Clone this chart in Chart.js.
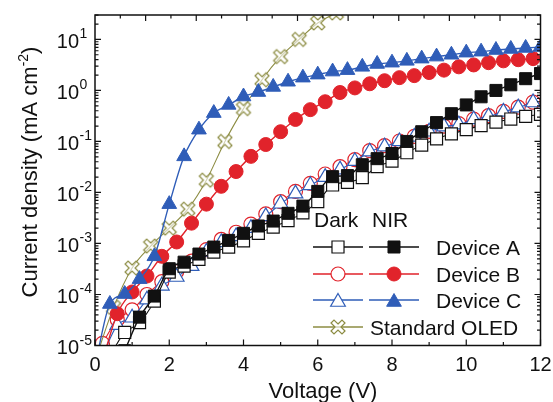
<!DOCTYPE html>
<html>
<head>
<meta charset="utf-8">
<script src="https://cdn.jsdelivr.net/npm/chart.js@4.4.1/dist/chart.umd.min.js"></script>
<style>
  html, body { margin: 0; padding: 0; background: #fff; }
  canvas { display: block; }
</style>
</head>
<body>
<canvas id="jvChart" width="553" height="402"></canvas>
<script>
// Voltage (V) sample points for each curve
const voltsDarkA = [0.4, 0.8, 1.2, 1.6, 2.0, 2.4, 2.8, 3.2, 3.6, 4.0, 4.4, 4.8, 5.2, 5.6, 6.0, 6.4, 6.8, 7.2, 7.6, 8.0, 8.4, 8.8, 9.2, 9.6, 10.0, 10.4, 10.8, 11.2, 11.6, 12.0];
const voltsNirA = [0.8, 1.2, 1.6, 2.0, 2.4, 2.8, 3.2, 3.6, 4.0, 4.4, 4.8, 5.2, 5.6, 6.0, 6.4, 6.8, 7.2, 7.6, 8.0, 8.4, 8.8, 9.2, 9.6, 10.0, 10.4, 10.8, 11.2, 11.6, 12.0];
const voltsB = [0.2, 0.6, 1.0, 1.4, 1.8, 2.2, 2.6, 3.0, 3.4, 3.8, 4.2, 4.6, 5.0, 5.4, 5.8, 6.2, 6.6, 7.0, 7.4, 7.8, 8.2, 8.6, 9.0, 9.4, 9.8, 10.2, 10.6, 11.0, 11.4, 11.8];
const voltsNirC = [0.0, 0.4, 0.8, 1.2, 1.6, 2.0, 2.4, 2.8, 3.2, 3.6, 4.0, 4.4, 4.8, 5.2, 5.6, 6.0, 6.4, 6.8, 7.2, 7.6, 8.0, 8.4, 8.8, 9.2, 9.6, 10.0, 10.4, 10.8, 11.2, 11.6, 12.0];
const voltsOled = [0.0, 0.5, 1.0, 1.5, 2.0, 2.5, 3.0, 3.5, 4.0, 4.5, 5.0, 5.5, 6.0, 6.5];

// Current density (mA cm-2)
const darkA = [6.3e-6, 1.8e-5, 2.8e-5, 7.4e-5, 2.75e-4, 3.6e-4, 4.9e-4, 6.8e-4, 8.5e-4, 1.12e-3, 1.58e-3, 2.1e-3, 2.8e-3, 3.98e-3, 6.6e-3, 1.4e-2, 1.58e-2, 1.95e-2, 3.2e-2, 4.1e-2, 6.0e-2, 8.5e-2, 0.112, 0.141, 0.17, 0.204, 0.24, 0.275, 0.31, 0.34];
const nirA = [7.9e-6, 3.6e-5, 9.3e-5, 3.2e-4, 4.3e-4, 6.2e-4, 8.5e-4, 1.15e-3, 1.58e-3, 2.2e-3, 2.75e-3, 3.9e-3, 5.4e-3, 1.05e-2, 2.04e-2, 2.14e-2, 3.5e-2, 4.6e-2, 5.8e-2, 0.10, 0.155, 0.234, 0.35, 0.52, 0.75, 1.0, 1.29, 1.70, 2.14];
const darkB = [1.1e-5, 3.2e-5, 5.0e-5, 1.0e-4, 1.78e-4, 2.8e-4, 4.5e-4, 7.6e-4, 1.2e-3, 1.66e-3, 2.4e-3, 3.8e-3, 6.6e-3, 1.05e-2, 1.51e-2, 2.3e-2, 3.2e-2, 4.4e-2, 6.6e-2, 8.3e-2, 0.102, 0.126, 0.158, 0.20, 0.224, 0.275, 0.32, 0.39, 0.47, 0.59];
const nirB = [5.0e-6, 4.2e-5, 1.12e-4, 2.3e-4, 5.6e-4, 1.07e-3, 2.5e-3, 5.9e-3, 1.32e-2, 2.57e-2, 5.1e-2, 8.7e-2, 0.155, 0.27, 0.42, 0.60, 0.91, 1.12, 1.35, 1.55, 1.78, 1.95, 2.24, 2.5, 2.9, 3.16, 3.5, 3.8, 4.0, 4.2];
const darkC = [6.3e-6, 2.5e-5, 3.5e-5, 7.9e-5, 1.48e-4, 2.2e-4, 3.6e-4, 6.8e-4, 1.05e-3, 1.38e-3, 2.0e-3, 3.4e-3, 6.0e-3, 9.5e-3, 1.38e-2, 2.0e-2, 2.8e-2, 4.1e-2, 6.3e-2, 7.9e-2, 0.10, 0.123, 0.155, 0.195, 0.214, 0.27, 0.31, 0.38, 0.46, 0.58];
const nirC = [4.0e-6, 6.5e-5, 1.02e-4, 2.0e-4, 5.6e-4, 5.9e-3, 5.1e-2, 0.17, 0.36, 0.52, 0.76, 0.93, 1.17, 1.48, 1.78, 2.04, 2.34, 2.5, 2.9, 3.3, 3.5, 3.8, 4.2, 4.6, 5.0, 5.5, 5.75, 6.2, 6.5, 6.8, 7.1];
const oled = [5.0e-6, 5.6e-5, 3.3e-4, 8.9e-4, 2.0e-3, 4.7e-3, 1.74e-2, 0.10, 0.44, 1.62, 4.6, 10, 21, 33];

const xTicks = [0, 2, 4, 6, 8, 10, 12];
const yExponents = [1, 0, -1, -2, -3, -4, -5];
const legendRows = ['Device A', 'Device B', 'Device C', 'Standard OLED'];

const BLACK = '#111111';
const RED = '#e1232b';
const BLUE = '#2f5db8';
const OLIVE = '#8c8c42';
const FONT = '"Liberation Sans", Arial, sans-serif';

// hollow "X" marker for the standard OLED
function makeCrossMarker(color) {
  const c = document.createElement('canvas');
  c.width = 18; c.height = 18;
  const g = c.getContext('2d');
  const s = 7, k = 3;
  g.translate(9, 9);
  g.beginPath();
  g.moveTo(0, -k);
  g.lineTo(s - k, -s); g.lineTo(s, -s + k);
  g.lineTo(k, 0);
  g.lineTo(s, s - k); g.lineTo(s - k, s);
  g.lineTo(0, k);
  g.lineTo(-s + k, s); g.lineTo(-s, s - k);
  g.lineTo(-k, 0);
  g.lineTo(-s, -s + k); g.lineTo(-s + k, -s);
  g.closePath();
  g.fillStyle = 'rgba(255,255,255,0.6)';
  g.fill();
  g.strokeStyle = color;
  g.lineWidth = 1.2;
  g.stroke();
  return c;
}
const crossMarker = makeCrossMarker(OLIVE);

function series(label, xs, ys, color, style, filled, radius) {
  return {
    label: label,
    data: xs.map((v, i) => ({ x: v, y: ys[i] })),
    borderColor: color,
    backgroundColor: filled ? color : '#ffffff',
    borderWidth: filled ? 1.4 : 1.1,
    pointStyle: style,
    pointRadius: radius,
    pointBorderWidth: filled ? 1 : 1.2,
    pointBorderColor: color,
    pointBackgroundColor: filled ? color : '#ffffff',
    cubicInterpolationMode: 'monotone',
    fill: false
  };
}

function drawMarker(ctx, style, x, y, color, filled, r) {
  ctx.save();
  ctx.fillStyle = filled ? color : '#ffffff';
  ctx.strokeStyle = color;
  ctx.lineWidth = filled ? 1 : 1.2;
  ctx.beginPath();
  if (style === 'rect') {
    const h = r * Math.SQRT1_2;
    ctx.rect(x - h, y - h, 2 * h, 2 * h);
  } else if (style === 'circle') {
    ctx.arc(x, y, r, 0, Math.PI * 2);
  } else if (style === 'triangle') {
    ctx.moveTo(x, y - r);
    ctx.lineTo(x + r * Math.sin(2 * Math.PI / 3), y - r * Math.cos(2 * Math.PI / 3));
    ctx.lineTo(x + r * Math.sin(4 * Math.PI / 3), y - r * Math.cos(4 * Math.PI / 3));
    ctx.closePath();
  }
  ctx.fill();
  ctx.stroke();
  ctx.restore();
}

const frameAndTicks = {
  id: 'frameAndTicks',
  afterDatasetsDraw(chart) {
    const { ctx, chartArea: a, scales } = chart;
    const x = scales.x, y = scales.y, xt = scales.xt;
    ctx.save();
    ctx.strokeStyle = BLACK;
    ctx.lineWidth = 1.5;
    ctx.strokeRect(a.left, a.top, a.right - a.left, a.bottom - a.top);
    ctx.lineWidth = 1.2;
    ctx.beginPath();
    // bottom ticks, inward
    for (let v = 0; v <= 12; v++) {
      const px = x.getPixelForValue(v);
      const len = v % 2 === 0 ? 6 : 3.5;
      ctx.moveTo(px, a.bottom); ctx.lineTo(px, a.bottom - len);
    }
    // top ticks
    for (let v = 1; v <= 17; v++) {
      const px = xt.getPixelForValue(v);
      const len = v % 2 === 0 ? 6 : 3.5;
      ctx.moveTo(px, a.top); ctx.lineTo(px, a.top + len);
    }
    // left and right log ticks
    for (let e = -5; e <= 1; e++) {
      for (let m = 1; m <= 9; m++) {
        const val = m * Math.pow(10, e);
        if (val > y.max) break;
        const py = y.getPixelForValue(val);
        const len = m === 1 ? 6 : 3.5;
        ctx.moveTo(a.left, py); ctx.lineTo(a.left + len, py);
        ctx.moveTo(a.right, py); ctx.lineTo(a.right - len, py);
      }
    }
    ctx.stroke();
    ctx.restore();
  },
  afterDraw(chart) {
    const { ctx, chartArea: a, scales } = chart;
    const x = scales.x, y = scales.y;
    ctx.save();
    ctx.fillStyle = BLACK;

    // x tick labels
    ctx.font = '20px ' + FONT;
    ctx.textAlign = 'center';
    ctx.textBaseline = 'alphabetic';
    xTicks.forEach(v => {
      ctx.fillText(String(v), x.getPixelForValue(v), a.bottom + 25);
    });

    // y tick labels 10^n
    yExponents.forEach(e => {
      const py = y.getPixelForValue(Math.pow(10, e));
      ctx.font = '20px ' + FONT;
      ctx.textAlign = 'right';
      ctx.fillText('10', 79, py + 8.5);
      ctx.font = '14px ' + FONT;
      ctx.textAlign = 'left';
      ctx.fillText(e < 0 ? '-' + Math.abs(e) : String(e), 79.5, py - 1);
    });

    // x axis title
    ctx.font = '22px ' + FONT;
    ctx.textAlign = 'center';
    ctx.fillText('Voltage (V)', 323, 398);

    // y axis title with superscript
    ctx.save();
    ctx.translate(37, 172);
    ctx.rotate(-Math.PI / 2);
    const t1 = 'Current density (mA cm', t2 = '-2', t3 = ')';
    ctx.font = '22px ' + FONT;
    const w1 = ctx.measureText(t1).width, w3 = ctx.measureText(t3).width;
    ctx.font = '14px ' + FONT;
    const w2 = ctx.measureText(t2).width;
    let sx = -(w1 + w2 + w3) / 2;
    ctx.textAlign = 'left';
    ctx.font = '22px ' + FONT;
    ctx.fillText(t1, sx, 0);
    ctx.font = '14px ' + FONT;
    ctx.fillText(t2, sx + w1, -9);
    ctx.font = '22px ' + FONT;
    ctx.fillText(t3, sx + w1 + w2, 0);
    ctx.restore();

    // legend
    ctx.font = '21px ' + FONT;
    ctx.textAlign = 'left';
    ctx.fillText('Dark', 314, 227);
    ctx.fillText('NIR', 372, 227);
    const rowY = [247, 274, 300, 327];
    const rowStyle = [['rect', BLACK, 8.5], ['circle', RED, 7], ['triangle', BLUE, 8.5]];
    rowStyle.forEach((s, i) => {
      const ry = rowY[i];
      ctx.strokeStyle = s[1];
      ctx.lineWidth = 1.3;
      ctx.beginPath();
      ctx.moveTo(313, ry); ctx.lineTo(363, ry);
      ctx.moveTo(369, ry); ctx.lineTo(419, ry);
      ctx.stroke();
      const dy = s[0] === 'triangle' ? 2 : 0;
      drawMarker(ctx, s[0], 338, ry + dy, s[1], false, s[2]);
      drawMarker(ctx, s[0], 394, ry + dy, s[1], true, s[2]);
      ctx.fillStyle = BLACK;
      ctx.fillText(legendRows[i], 436, ry + 7.5);
    });
    const oy = rowY[3];
    ctx.strokeStyle = OLIVE;
    ctx.lineWidth = 1.3;
    ctx.beginPath();
    ctx.moveTo(313, oy); ctx.lineTo(363, oy);
    ctx.stroke();
    ctx.drawImage(crossMarker, 338 - 9, oy - 9);
    ctx.fillStyle = BLACK;
    ctx.fillText(legendRows[3], 370, oy + 7.5);
    ctx.restore();
  }
};

new Chart(document.getElementById('jvChart').getContext('2d'), {
  type: 'line',
  data: {
    datasets: [
      series('Device C NIR', voltsNirC, nirC, BLUE, 'triangle', true, 8.5),
      series('Device B NIR', voltsB, nirB, RED, 'circle', true, 7),
      series('Device A NIR', voltsNirA, nirA, BLACK, 'rect', true, 8.5),
      series('Standard OLED', voltsOled, oled, OLIVE, crossMarker, false, 8),
      series('Device A Dark', voltsDarkA, darkA, BLACK, 'rect', false, 8.5),
      series('Device C Dark', voltsB, darkC, BLUE, 'triangle', false, 8.5),
      series('Device B Dark', voltsB, darkB, RED, 'circle', false, 7)
    ]
  },
  options: {
    responsive: false,
    animation: false,
    devicePixelRatio: 1,
    layout: { padding: { left: 95, right: 12.5, top: 15, bottom: 56.5 } },
    plugins: {
      legend: { display: false },
      tooltip: { enabled: false }
    },
    scales: {
      x: { type: 'linear', min: 0, max: 12, display: false },
      xt: { type: 'linear', axis: 'x', position: 'top', min: 0, max: 17.6, display: false },
      y: { type: 'logarithmic', min: 1e-5, max: 30.1, display: false }
    }
  },
  plugins: [frameAndTicks]
});
</script>
</body>
</html>
